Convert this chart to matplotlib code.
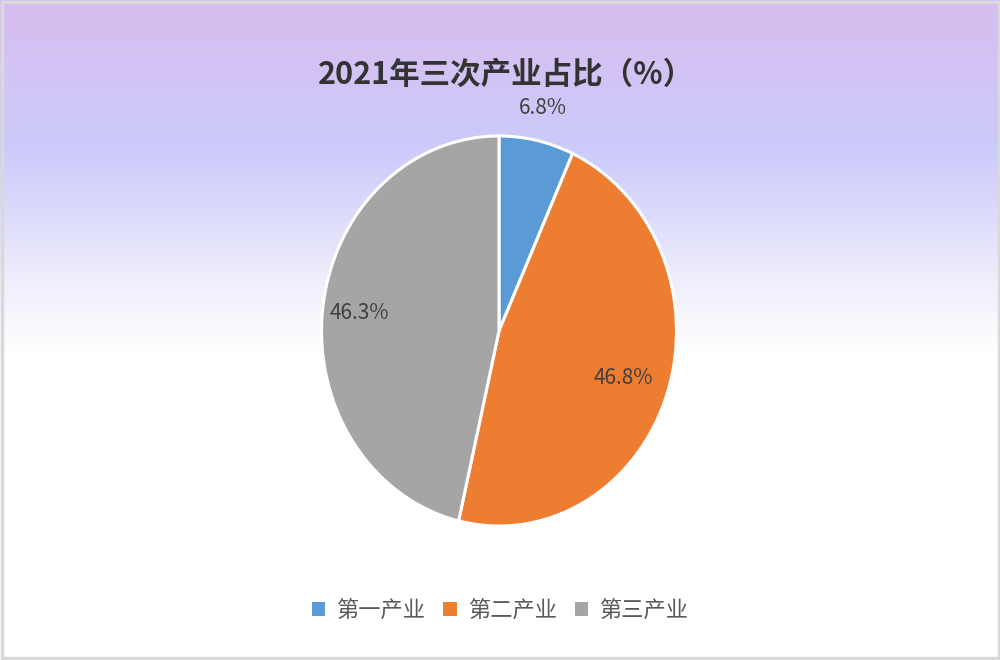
import numpy as np
import matplotlib.pyplot as plt
from matplotlib.patches import Patch
from matplotlib.colors import to_rgb

plt.rcParams['font.family'] = ['Noto Sans CJK SC', 'DejaVu Sans']

categories = ['第一产业', '第二产业', '第三产业']
shares = [6.8, 46.8, 46.3]
colors = ['#5B9BD5', '#ED7D31', '#A5A5A5']
label_radius = [1.17, 0.74, 0.79]

fig = plt.figure(figsize=(10, 6.6), dpi=100)

# background gradient (lavender at top fading to white)
bg = fig.add_axes([0, 0, 1, 1], zorder=-10)
stops = [(0.0, '#d6bcee'), (0.1, '#d3c3f4'), (0.22, '#cbcafa'), (0.32, '#dcdafb'),
         (0.42, '#eeedfc'), (0.5, '#fafafe'), (0.54, '#ffffff'), (1.0, '#ffffff')]
ys = np.linspace(0, 1, 660)
grad = np.zeros((660, 1, 3))
pos = [s[0] for s in stops]
for c in range(3):
    vals = [to_rgb(s[1])[c] for s in stops]
    grad[:, 0, c] = np.interp(ys, pos, vals)
bg.imshow(grad, aspect='auto', extent=[0, 1, 0, 1], origin='upper', interpolation='bilinear')
bg.set_xlim(0, 1)
bg.set_ylim(0, 1)
bg.axis('off')
# border
bg.add_patch(plt.Rectangle((0.0015, 0.0023), 0.997, 0.9954, fill=False,
                           edgecolor='#d9d9d9', linewidth=2.5, transform=bg.transAxes))

ax = fig.add_axes([0.3215, 0.203, 0.355, 0.591])
wedges, _ = ax.pie(shares, colors=colors, startangle=90, counterclock=False,
                   wedgeprops=dict(edgecolor='white', linewidth=2.2))
ax.set_aspect('auto')
ax.set_xlim(-1, 1)
ax.set_ylim(-1, 1)
ax.axis('off')

for w, v, r in zip(wedges, shares, label_radius):
    ang = np.deg2rad((w.theta1 + w.theta2) / 2)
    ax.text(r * np.cos(ang), r * np.sin(ang), f'{v}%', ha='center', va='center',
            fontsize=15, color='#404040', clip_on=False)

fig.text(0.506, 1 - 75 / 660, '2021年三次产业占比（%）', ha='center', va='center',
         fontsize=22, fontweight='bold', color='#333333')

handles = [Patch(facecolor=c, edgecolor='none') for c in colors]
fig.legend(handles, categories, loc='center', bbox_to_anchor=(0.5, 1 - 610 / 660),
           ncol=3, frameon=False, fontsize=16, labelcolor='#595959',
           handlelength=0.6, handleheight=0.6, handletextpad=0.5, columnspacing=0.8)

fig.savefig('out.png', dpi=100)
